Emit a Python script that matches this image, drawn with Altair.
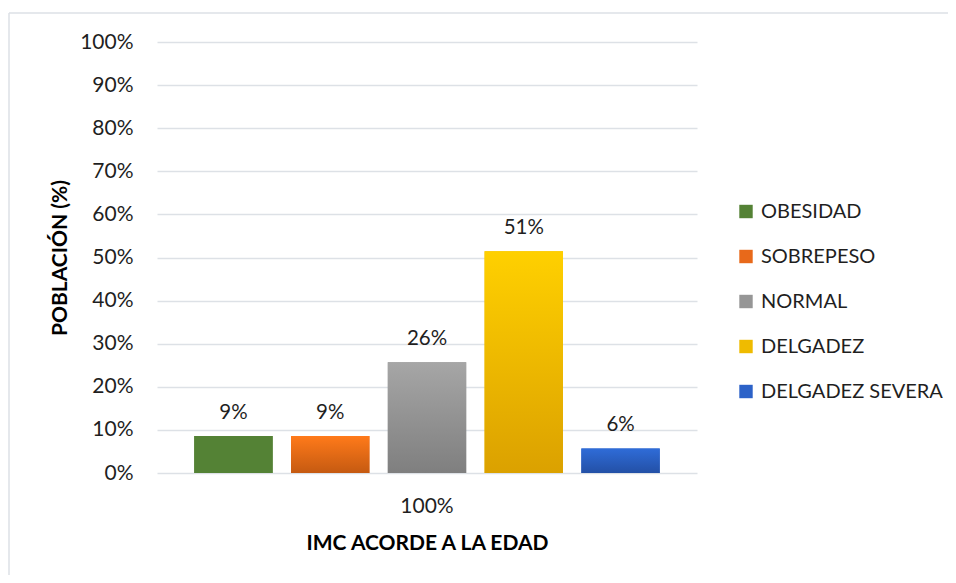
import altair as alt
import pandas as pd

categorias = ["OBESIDAD", "SOBREPESO", "NORMAL", "DELGADEZ", "DELGADEZ SEVERA"]
valores = [8.57, 8.57, 25.71, 51.43, 5.71]
grupo = ["100%"] * 5
colores_leyenda = ["#548235", "#e8691a", "#969696", "#efbb00", "#2c62c8"]
grad_sup = ["#548235", "#ff7a1a", "#a6a6a6", "#ffd000", "#2f6cd8"]
grad_inf = ["#548235", "#c55a11", "#7f7f7f", "#dba100", "#2350a6"]
ticks_y = [0, 10, 20, 30, 40, 50, 60, 70, 80, 90, 100]

df = pd.DataFrame({"cat": categorias, "v": valores, "grupo": grupo})

FONT = "Lato"
TXT = "#1f1f1f"
GRID = "#dde1e6"

x_enc = alt.X("grupo:N", title="IMC ACORDE A LA EDAD",
              scale=alt.Scale(paddingInner=0, paddingOuter=0.058),
              axis=alt.Axis(labelAngle=0, domain=False, ticks=False, labelPadding=22,
                            labelFontSize=21, labelFont=FONT, labelColor=TXT,
                            titleFont=FONT, titleFontSize=21, titleFontWeight="bold",
                            titleColor="#000", titleY=70, titleBaseline="middle"))
xo_enc = alt.XOffset("cat:N", sort=categorias,
                     scale=alt.Scale(domain=categorias, paddingInner=0.19, paddingOuter=0.095))
y_enc = alt.Y("v:Q", title="POBLACIÓN (%)",
              scale=alt.Scale(domain=[0, 100], nice=False),
              axis=alt.Axis(values=ticks_y, labelExpr="datum.value + '%'", domain=False,
                            ticks=False, labelPadding=24, labelFontSize=21, labelFont=FONT,
                            labelColor=TXT, gridColor=GRID, gridWidth=1.3,
                            titleFont=FONT, titleFontSize=21, titleFontWeight="bold",
                            titleColor="#000", titleX=-97, titleY=215.5, titleAngle=-90,
                            titleAlign="center", titleBaseline="middle"))

base = alt.Chart(df)

legend_bars = base.mark_bar().encode(
    x=x_enc, xOffset=xo_enc, y=y_enc,
    color=alt.Color("cat:N", sort=categorias,
                    scale=alt.Scale(domain=categorias, range=colores_leyenda),
                    legend=alt.Legend(title=None, orient="none", legendX=579, legendY=159.5,
                                      symbolType="square", symbolSize=180, symbolStrokeWidth=0,
                                      labelFont=FONT, labelFontSize=20, labelColor=TXT,
                                      labelOffset=5, rowPadding=25, padding=0,
                                      labelLimit=300)),
)

conds = []
for c, top, bot in zip(categorias, grad_sup, grad_inf):
    conds.append({
        "test": f"datum.cat === '{c}'",
        "value": {"gradient": "linear", "x1": 0, "y1": 0, "x2": 0, "y2": 1,
                  "stops": [{"offset": 0, "color": top}, {"offset": 1, "color": bot}]},
    })

grad_bars = base.mark_bar().encode(
    x=alt.X("grupo:N"), xOffset=alt.XOffset("cat:N", sort=categorias), y=alt.Y("v:Q"),
    fill={"condition": conds, "value": "#548235"},
)

labels = base.transform_calculate(
    lab="format(datum.v / 100, '.0%')"
).mark_text(font=FONT, fontSize=20.5, color=TXT, dy=-17, baseline="alphabetic").encode(
    x=alt.X("grupo:N"), xOffset=alt.XOffset("cat:N", sort=categorias), y=alt.Y("v:Q"),
    text="lab:N",
)

marco = pd.DataFrame({"a": [0]})
borde_sup = alt.Chart(marco).mark_rule(color=GRID, strokeWidth=1.5).encode(
    x=alt.value(-148), x2=alt.value(800), y=alt.value(-29))
borde_izq = alt.Chart(marco).mark_rule(color=GRID, strokeWidth=1.5).encode(
    x=alt.value(-148), y=alt.value(-29), y2=alt.value(600))

chart = alt.layer(legend_bars, grad_bars, labels, borde_sup, borde_izq).properties(
    width=540, height=431,
    autosize=alt.AutoSizeParams(type="none"),
    padding={"left": 149, "top": 34, "right": 251, "bottom": 102},
).configure(background="white").configure_view(stroke=None)

chart.save("out.html", embed_options={"renderer": "svg", "actions": False})
